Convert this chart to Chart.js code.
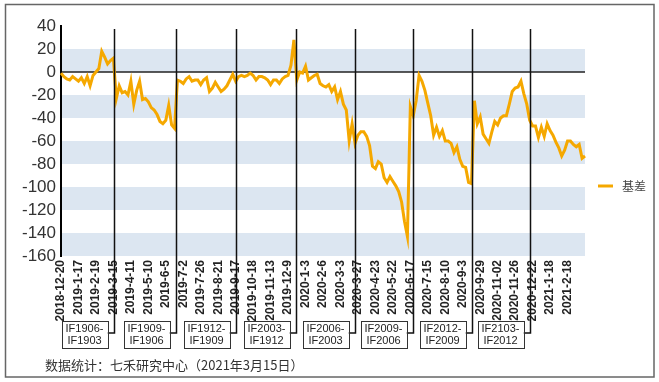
<!DOCTYPE html>
<html><head><meta charset="utf-8">
<script src="https://cdn.jsdelivr.net/npm/chart.js@4/dist/chart.umd.min.js"></script>
<style>html,body{margin:0;padding:0;background:#fff;}canvas{display:block;}</style>
</head><body>
<canvas id="c" width="659" height="382"></canvas>
<script>
// ---- data ----
const tickLabels = ['2018-12-20','2019-1-17','2019-2-19','2019-3-15','2019-4-11','2019-5-10','2019-6-5','2019-7-2','2019-7-26','2019-8-21','2019-9-17','2019-10-18','2019-11-13','2019-12-9','2020-1-3','2020-2-6','2020-3-3','2020-3-27','2020-4-23','2020-5-22','2020-6-17','2020-7-15','2020-8-10','2020-9-3','2020-9-29','2020-11-02','2020-11-26','2020-12-22','2021-1-18','2021-2-18'];
const pointsPerTick = 6;
const seriesName = '基差';
const basis = [
-1,-4,-6,-7,-4,-6,-8,-5,-10,-4,
-12,-3,0,3,18,13,7,10,12,-23,
-12,-18,-17,-20,-8,-28,-16,-8,-24,-23,
-26,-31,-33,-37,-43,-45,-42,-29,-46,-49,
-7,-8,-10,-6,-4,-8,-7,-7,-11,-7,
-5,-17,-14,-9,-13,-17,-15,-12,-7,-2,
-8,-4,-3,-4,-3,-1,-3,-7,-4,-4,
-5,-7,-11,-7,-7,-10,-6,-4,-3,6,
28,-7,0,-1,5,-7,-5,-3,-2,-10,
-12,-13,-11,-17,-13,-24,-17,-28,-33,-60,
-45,-62,-55,-52,-52,-56,-64,-82,-84,-78,
-80,-92,-96,-91,-95,-99,-104,-113,-130,-143,
-30,-38,-25,-3,-8,-16,-27,-38,-55,-48,
-56,-51,-60,-60,-62,-70,-65,-76,-82,-83,
-96,-97,-25,-45,-39,-54,-58,-62,-52,-43,
-46,-40,-38,-38,-28,-17,-14,-13,-8,-19,
-28,-42,-47,-47,-57,-48,-56,-45,-51,-55,
-61,-66,-73,-68,-60,-60,-63,-65,-63,-75,
-73
];
const yMin = -160, yMax = 40, yStep = 20;
// contract roll points (position on the data index axis) and their labels
const rollAt = [18.3, 39.4, 60.2, 80.6, 101, 120.9, 141.3, 161.2];
const rollNames = [['IF1906-','IF1903'],['IF1909-','IF1906'],['IF1912-','IF1909'],['IF2003-','IF1912'],['IF2006-','IF2003'],['IF2009-','IF2006'],['IF2012-','IF2009'],['IF2103-','IF2012']];
const footerText = '数据统计：七禾研究中心（2021年3月15日）';

const labels = basis.map((_, i) => i % pointsPerTick === 0 ? (tickLabels[i / pointsPerTick] || '') : '');

const FONT = '"Liberation Sans", Arial, sans-serif';
const CJK = '"Noto Sans CJK SC", "Liberation Sans", sans-serif';

const decor = {
  id: 'decor',
  beforeDraw(chart) {
    const {ctx, chartArea: a, scales: {y}} = chart;
    ctx.save();
    ctx.fillStyle = '#fff';
    ctx.fillRect(0, 0, chart.width, chart.height);
    ctx.strokeStyle = '#666';
    ctx.lineWidth = 1.5;
    ctx.strokeRect(5.5, 4.5, 648.5, 372.5);
    ctx.fillStyle = '#DCE6F1';
    for (let v = yMax - yStep; v > yMin; v -= 2 * yStep) {
      const t = y.getPixelForValue(v), b = y.getPixelForValue(v - yStep);
      ctx.fillRect(a.left, t, a.right - a.left, b - t);
    }
    ctx.strokeStyle = '#222';
    ctx.lineWidth = 1.5;
    const z = y.getPixelForValue(0);
    ctx.beginPath(); ctx.moveTo(a.left, z); ctx.lineTo(a.right, z); ctx.stroke();
    ctx.restore();
  },
  afterDraw(chart) {
    const {ctx, chartArea: a, scales: {x}} = chart;
    ctx.save();
    // roll lines + boxes
    const boxW = 46, boxH = 27, boxTop = 321;
    rollAt.forEach((r, k) => {
      const px = Math.round(x.getPixelForValue(r)) + 0.5;
      const cy = boxTop + 12;
      const bx = px - 7 - boxW;
      ctx.strokeStyle = '#111';
      ctx.lineWidth = 1.5;
      ctx.beginPath();
      ctx.moveTo(px, a.top + 3);
      ctx.lineTo(px, cy);
      ctx.lineTo(bx + boxW, cy);
      ctx.stroke();
      ctx.fillStyle = '#fff';
      ctx.fillRect(bx, boxTop, boxW, boxH);
      ctx.strokeStyle = '#333';
      ctx.lineWidth = 1;
      ctx.strokeRect(Math.round(bx) + 0.5, boxTop + 0.5, boxW, boxH);
      ctx.fillStyle = '#222';
      ctx.font = '11px ' + FONT;
      ctx.textAlign = 'center';
      ctx.textBaseline = 'middle';
      ctx.fillText(rollNames[k][0], bx + boxW / 2, boxTop + 8);
      ctx.fillText(rollNames[k][1], bx + boxW / 2, boxTop + 20);
    });
    // legend
    const ds = chart.data.datasets[0];
    const ly = 186;
    ctx.strokeStyle = ds.borderColor;
    ctx.lineWidth = 3;
    ctx.beginPath(); ctx.moveTo(a.right + 13, ly); ctx.lineTo(a.right + 28, ly); ctx.stroke();
    ctx.fillStyle = '#444';
    ctx.font = '12px ' + CJK;
    ctx.textAlign = 'left';
    ctx.textBaseline = 'middle';
    ctx.fillText(ds.label, a.right + 37, ly);
    // footer
    ctx.fillStyle = '#333';
    ctx.font = '13px ' + CJK;
    ctx.fillText(footerText, 45, 365);
    ctx.restore();
  }
};

new Chart(document.getElementById('c'), {
  type: 'line',
  data: {
    labels,
    datasets: [{
      label: seriesName,
      data: basis,
      borderColor: '#F5A800',
      borderWidth: 3,
      pointRadius: 0,
      tension: 0,
      fill: false
    }]
  },
  options: {
    responsive: false,
    animation: false,
    devicePixelRatio: 1,
    layout: { padding: { left: 0, right: 74, top: 26, bottom: 0 } },
    plugins: { legend: { display: false }, tooltip: { enabled: false } },
    scales: {
      x: {
        grid: { display: false, drawTicks: false },
        border: { display: false },
        afterFit(s) { s.height = 126; },
        ticks: {
          autoSkip: false, minRotation: 90, maxRotation: 90, padding: 4,
          color: '#222', font: { family: FONT, size: 12, weight: 'bold' }
        }
      },
      y: {
        min: yMin, max: yMax,
        grid: { display: false, drawTicks: false },
        border: { display: true, color: '#000', width: 2 },
        afterFit(s) { s.width = 61; },
        ticks: { stepSize: yStep, autoSkip: false, padding: 5, color: '#333', font: { family: FONT, size: 17 } }
      }
    }
  },
  plugins: [decor]
});
</script>
</body></html>
